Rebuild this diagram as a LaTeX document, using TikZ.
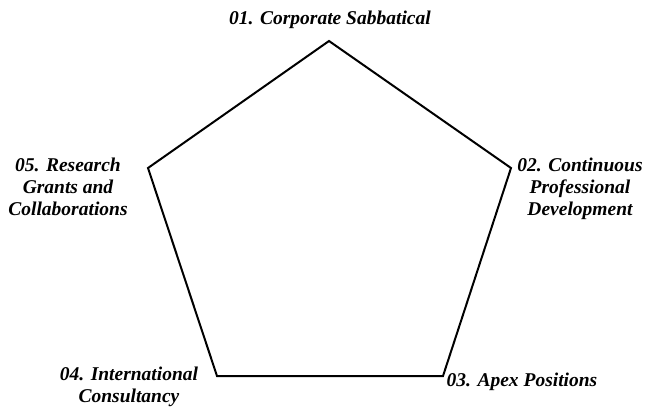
\documentclass[tikz,border=0pt]{standalone}
\usepackage{fontspec}
\setmainfont{Liberation Serif}
\begin{document}
\begin{tikzpicture}[x=1pt,y=-1pt,
  lbl/.style={align=center,font=\fontsize{19.5}{22}\selectfont\bfseries\itshape,inner sep=0pt,text=black},
  edge/.style={draw=black,line width=2pt,line join=miter}]
\useasboundingbox (0,0) rectangle (647,407);
\coordinate (v1) at (329,41);
\coordinate (v2) at (511,168);
\coordinate (v3) at (443,376);
\coordinate (v4) at (217,376);
\coordinate (v5) at (148,168);
\draw[edge] (v1) -- (v2) -- (v3) -- (v4) -- (v5) -- cycle;
\node[lbl] (l1) at (330,20) {01. Corporate Sabbatical};
\node[lbl] (l2) at (580,189) {02. Continuous\\Professional\\Development};
\node[lbl] (l3) at (522,382) {03. Apex Positions};
\node[lbl] (l4) at (129,387) {04. International\\Consultancy};
\node[lbl] (l5) at (68,187) {05. Research\\Grants and\\Collaborations};
\end{tikzpicture}
\end{document}
